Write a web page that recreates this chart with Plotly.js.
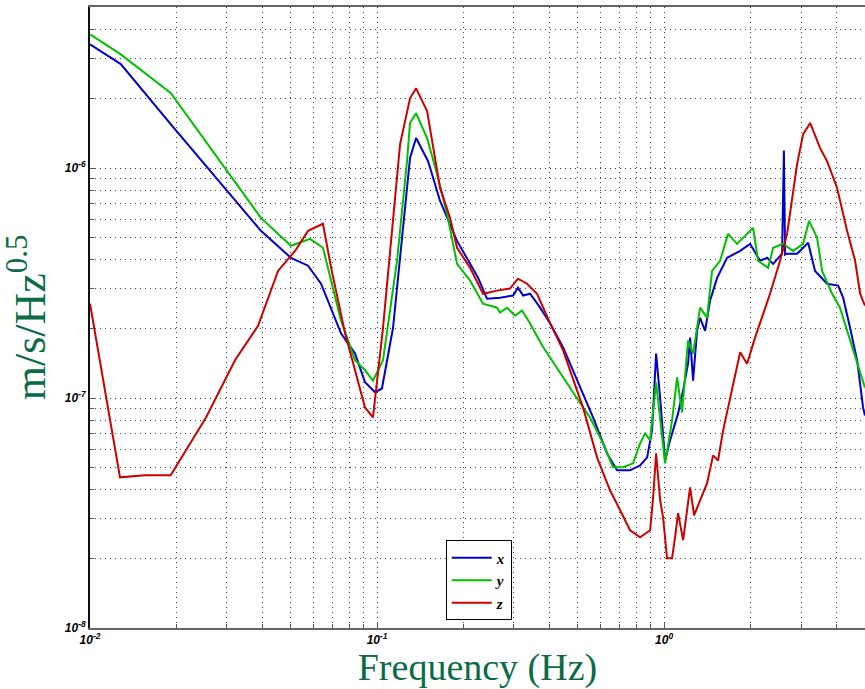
<!DOCTYPE html>
<html>
<head>
<meta charset="utf-8">
<script src="https://cdn.plot.ly/plotly-3.0.1.min.js"></script>
<style>html,body{margin:0;padding:0;background:#fff;}#chart{width:865px;height:689px;}</style>
</head>
<body>
<div id="chart"></div>
<script>
// x-axis (Hz) and values (m/s/Hz^0.5) for each component
var freqX = [0.01,0.0128,0.0191,0.0295,0.0394,0.0501,0.0575,0.0638,0.0749,0.0838,0.0908,0.0984,0.104,0.1137,0.1303,0.1368,0.1506,0.1658,0.1754,0.190,0.211,0.225,0.2417,0.2683,0.2978,0.3097,0.3228,0.3413,0.370,0.401,0.445,0.4977,0.5657,0.633,0.686,0.761,0.825,0.873,0.908,0.938,0.969,1.008,1.049,1.119,1.165,1.212,1.232,1.262,1.303,1.335,1.39,1.446,1.530,1.658,1.841,1.994,2.160,2.286,2.399,2.577,2.60,2.615,2.64,2.683,2.907,3.177,3.357,3.698,4.04,4.205,4.446,4.704,4.935,5.01];
var valX  = [3.45e-6,2.83e-6,1.55e-6,8.11e-7,5.33e-7,4.07e-7,3.76e-7,3.14e-7,1.91e-7,1.56e-7,1.17e-7,1.06e-7,1.10e-7,2.02e-7,1.105e-6,1.35e-6,1.07e-6,7.19e-7,6.07e-7,4.82e-7,3.83e-7,3.33e-7,2.70e-7,2.73e-7,2.79e-7,3.02e-7,2.79e-7,2.84e-7,2.47e-7,2.11e-7,1.66e-7,1.19e-7,8.23e-8,5.74e-8,4.85e-8,4.85e-8,5.09e-8,5.52e-8,7.23e-8,1.56e-7,1.00e-7,5.35e-8,6.54e-8,8.57e-8,1.08e-7,1.41e-7,1.83e-7,1.19e-7,1.96e-7,2.23e-7,1.96e-7,2.65e-7,3.33e-7,4.07e-7,4.36e-7,4.68e-7,3.95e-7,4.07e-7,3.83e-7,4.24e-7,1.19e-6,1.19e-6,4.20e-7,4.24e-7,4.24e-7,4.73e-7,3.57e-7,3.14e-7,3.08e-7,2.73e-7,2.02e-7,1.46e-7,9.1e-8,8.4e-8];

var freqY = [0.01,0.0128,0.0191,0.0295,0.0394,0.0501,0.0584,0.0648,0.0749,0.0838,0.0908,0.0968,0.1049,0.1174,0.1272,0.1303,0.1368,0.1494,0.1618,0.1754,0.190,0.211,0.234,0.2618,0.2683,0.2838,0.3027,0.320,0.3413,0.376,0.410,0.445,0.4977,0.552,0.613,0.664,0.7195,0.780,0.825,0.859,0.894,0.938,0.969,1.008,1.066,1.110,1.155,1.212,1.262,1.335,1.412,1.469,1.567,1.671,1.795,1.841,2.042,2.126,2.304,2.399,2.598,2.815,3.05,3.20,3.413,3.553,3.85,4.10,4.375,4.704,4.88,5.01];
var valY  = [3.81e-6,3.12e-6,2.12e-6,1.00e-6,6.07e-7,4.59e-7,4.92e-7,4.50e-7,2.17e-7,1.46e-7,1.32e-7,1.19e-7,1.46e-7,3.95e-7,1.07e-6,1.57e-6,1.73e-6,1.35e-6,9.42e-7,6.31e-7,3.83e-7,3.24e-7,2.57e-7,2.47e-7,2.35e-7,2.47e-7,2.28e-7,2.40e-7,2.11e-7,1.69e-7,1.43e-7,1.22e-7,9.95e-8,8.23e-8,6.35e-8,5.0e-8,5.0e-8,5.2e-8,6.35e-8,7.02e-8,6.54e-8,1.17e-7,8.23e-8,5.2e-8,7.98e-8,1.23e-7,8.65e-8,1.78e-7,1.56e-7,2.47e-7,2.23e-7,3.57e-7,3.95e-7,5.17e-7,4.68e-7,4.82e-7,5.49e-7,3.95e-7,3.68e-7,4.50e-7,4.68e-7,4.36e-7,4.68e-7,5.89e-7,4.97e-7,3.57e-7,2.84e-7,2.47e-7,1.91e-7,1.43e-7,1.25e-7,1.11e-7];

var freqZ = [0.01,0.01272,0.01554,0.0191,0.02536,0.0320,0.0385,0.0452,0.0518,0.0575,0.0648,0.0692,0.0774,0.0908,0.0968,0.1049,0.1203,0.1303,0.1368,0.1494,0.1658,0.1796,0.190,0.211,0.234,0.2618,0.2906,0.3097,0.3331,0.361,0.401,0.445,0.501,0.522,0.584,0.648,0.703,0.761,0.825,0.894,0.916,0.938,0.969,0.992,1.024,1.066,1.092,1.119,1.165,1.232,1.272,1.412,1.482,1.542,1.606,1.698,1.841,1.946,2.075,2.34,2.535,2.683,2.907,3.05,3.227,3.497,3.698,4.007,4.34,4.63,4.82,5.01];
var valZ  = [2.57e-7,4.52e-8,4.61e-8,4.61e-8,8.23e-8,1.46e-7,2.06e-7,3.57e-7,4.36e-7,5.33e-7,5.72e-7,3.68e-7,1.91e-7,9.1e-8,8.23e-8,2.02e-7,1.27e-6,2.01e-6,2.22e-6,1.77e-6,8.19e-7,6.07e-7,4.50e-7,3.68e-7,2.84e-7,2.93e-7,2.99e-7,3.30e-7,3.14e-7,2.84e-7,2.11e-7,1.61e-7,1.05e-7,9.1e-8,5.52e-8,3.97e-8,3.25e-8,2.66e-8,2.48e-8,2.66e-8,3.70e-8,5.74e-8,3.59e-8,3.03e-8,2.01e-8,2.01e-8,2.48e-8,3.16e-8,2.41e-8,4.09e-8,3.09e-8,4.26e-8,5.63e-8,5.35e-8,7.23e-8,1.00e-7,1.58e-7,1.41e-7,1.83e-7,2.84e-7,3.95e-7,5.17e-7,1.04e-6,1.40e-6,1.57e-6,1.22e-6,1.07e-6,8.19e-7,5.33e-7,3.95e-7,2.84e-7,2.52e-7];

var seriesNames = ['x','y','z'];
var xTickVals = [0.01, 0.1, 1];
var xTickText = ['10<sup>-2</sup>', '10<sup>-1</sup>', '10<sup>0</sup>'];
var yTickVals = [1e-8, 1e-7, 1e-6];
var yTickText = ['10<sup>-8</sup>', '10<sup>-7</sup>', '10<sup>-6</sup>'];

var green = '#0a6b45';
var traces = [
  {x: freqX, y: valX, name: seriesNames[0], mode: 'lines', line: {color: '#0000cc', width: 2}},
  {x: freqY, y: valY, name: seriesNames[1], mode: 'lines', line: {color: '#00c000', width: 2}},
  {x: freqZ, y: valZ, name: seriesNames[2], mode: 'lines', line: {color: '#cc0000', width: 2}}
];

var tickFont = {family: 'Liberation Sans, Arial, sans-serif', size: 12, color: '#000', style: 'italic', weight: 'bold'};
var gridDash = '1px,4px';
var axisCommon = {
  type: 'log',
  tickmode: 'array',
  ticks: 'inside',
  ticklen: 6,
  tickcolor: '#555',
  tickfont: tickFont,
  showgrid: true,
  gridcolor: '#333',
  griddash: gridDash,
  gridwidth: 1,
  showline: true,
  mirror: true,
  zeroline: false,
  minor: {dtick: 'D1', ticks: 'inside', ticklen: 4, tickcolor: '#555', showgrid: true, gridcolor: '#444', griddash: gridDash, gridwidth: 1}
};

var layout = {
  width: 865, height: 689,
  margin: {l: 90, r: 0, t: 7, b: 61},
  paper_bgcolor: '#fff', plot_bgcolor: '#fff',
  showlegend: true,
  legend: {x: 0.459, y: 0.141, xanchor: 'left', yanchor: 'top', bgcolor: '#fff', bordercolor: '#000', borderwidth: 1,
           font: {family: 'Liberation Serif, serif', size: 15, color: '#000', style: 'italic', weight: 'bold'},
           itemwidth: 40, tracegroupgap: 0},
  xaxis: Object.assign({}, axisCommon, {
    range: [-2, 0.7], tickvals: xTickVals, ticktext: xTickText,
    linecolor: '#666', linewidth: 2,
    title: {text: 'Frequency (Hz)', standoff: 4, font: {family: 'Liberation Serif, serif', size: 38, color: green}}
  }),
  yaxis: Object.assign({}, axisCommon, {
    range: [-8, -5.3], tickvals: yTickVals, ticktext: yTickText,
    linecolor: '#111', linewidth: 2,
    title: {text: 'm/s/Hz<sup>0.5</sup>', standoff: 6, font: {family: 'Liberation Serif, serif', size: 44, color: green}}
  })
};

Plotly.newPlot('chart', traces, layout, {displayModeBar: false, staticPlot: true});
</script>
</body>
</html>
